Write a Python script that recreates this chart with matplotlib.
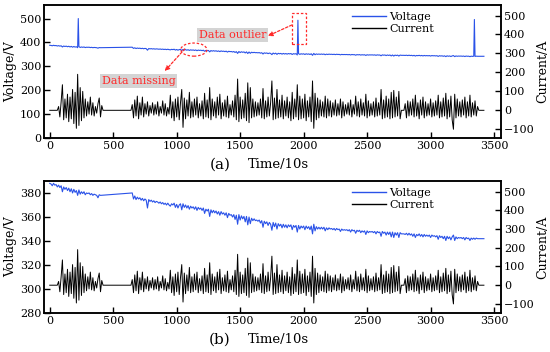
import numpy as np
import matplotlib
matplotlib.use("Agg")
import matplotlib.pyplot as plt
from matplotlib.patches import Ellipse, Rectangle

plt.rcParams['font.family'] = ['DejaVu Serif']
plt.rcParams['mathtext.default'] = 'regular'

# ---- current (A), sampled every 10 time units ----
cur_seg1 = [20, -35, 45, 135, -50, 60, -40, 85, -60, 70,
            -45, 110, -70, 95, -95, 190, -80, 120, -55, 100,
            -40, 60, -30, 45, -20, 70, -25, 40, -30, 20,
            -15, 35, 65, -35, 25]
cur_seg2 = [30, -40, 55, -30, 75, -45, 40, -25, 70, -35,
            35, -20, 45, -30, 25, -15, 40, -25, 30, -20,
            45, -30, 20, -15, 50, -25, 35, -30, 15, -20,
            80, -40, 45, -55, 60, -35, 70, -50, 40, 110,
            -90, 65, -45, 55, -30, 95, -40, 45, -35, 60,
            -25, 70, -40, 35, -30, 50, -45, 90, -35, 55,
            -40, 120, -50, 60, -30, 45, -40, 70, -25, 85,
            -45, 40, -30, 55, -35, 75, -40, 30, -25, 50,
            -35, 80, -50, 165, -60, 70, -45, 55, -40, 90,
            -55, 145, -65, 120, -40, 60, -35, 45, -30, 40,
            -25, 60, -40, 115, -45, 50, -35, 70, -30, 40,
            155, -50, 65, -45, 110, -40, 55, -35, 80, -45,
            50, -30, 70, -40, 45, -55, 95, -45, 60, -35,
            135, -50, 75, -45, 60, -40, 85, -55, 50, -35,
            70, -60, 155, -95, 90, -50, 65, -40, 55, -30,
            45, -35, 75, -40, 60, -30, 50, -35, 40, -25,
            55, -30, 35, -25, 60, -40, 45, -30, 30, -20,
            40, -25, 55, -35, 30, -20, 75, -30, 45, -35,
            60, -25, 40, -30, 85, -40, 50, -30, 35, -25,
            45, -35, 65, -30, 40, -25, 110, -45, 55, -40,
            75, -35, 60, -45, 95, -40, 105, -35, 70, -30,
            100, -45, 0, 0, 0, 35, -40, 50, -30, 45,
            -25, 60, -35, 80, -30, 40, -45, 55, -25, 70,
            -40, 45, -30, 35, -25, 60, -35, 40, -30, 50,
            -25, 80, -40, 45, -35, 65, -30, 90, -45, 55,
            -35, 75, -50, -100, 85, -40, 60, -30, 45, -35,
            55, -25, 70, -40, 45, -30, 80, -35, 40, -25,
            50, -30, 20]
cur_time = np.concatenate([[0, 60], np.arange(70, 411, 10), [420, 640],
                           np.arange(650, 3371, 10), [3380, 3420]])
current = np.concatenate([[0, 0], cur_seg1, [0, 0], cur_seg2, [0, 0]])

# ---- voltage (V), sampled every 10 time units (gap 400-650) ----
volt_seg1 = [388, 387.5, 386, 388, 386.5, 387, 385, 386.5, 384.5, 386,
             381, 385, 383, 384.5, 382, 384, 381, 383.5, 380, 383,
             380.5, 382, 378, 382.5, 379, 381, 379.5, 381, 378.5, 380,
             379.5, 380, 378.5, 379.5, 378, 379, 378.5, 378, 376, 378.5,
             378]
volt_seg2 = [380, 375, 377.5, 374.5, 376.5, 375, 376, 374, 375.5, 373.5,
             375, 374, 367.5, 374.5, 373, 374, 372.5, 373.5, 372, 373,
             372.5, 371.5, 372.5, 371, 372, 370.5, 371.5, 370, 371.5, 370,
             369, 371, 370, 371.5, 368, 370.5, 367.5, 370, 371, 366,
             371, 368, 370, 367.5, 369.5, 366.5, 369, 367.5, 368.5, 366.5,
             368.5, 365.5, 368, 366.5, 367.5, 365.5, 367.5, 363, 366.5, 365,
             366.5, 360.5, 366, 363.5, 365.5, 363.5, 365, 362.5, 364.5, 361.5,
             364.5, 362.5, 363.5, 361.5, 363.5, 359.5, 363, 361.5, 362, 360,
             362, 358, 361.5, 354, 362, 357.5, 361, 358.5, 360.5, 356,
             360.5, 353.5, 360, 354.5, 359, 357, 358.5, 357, 357.5, 356.5,
             357.5, 355, 357, 351.5, 356.5, 354.5, 356, 353, 355.5, 354,
             349, 355.5, 352, 355, 350, 354.5, 352.5, 354, 351, 354,
             351.5, 353.5, 351, 353.5, 352, 353.5, 349.5, 353, 351.5, 353,
             347.5, 353, 350, 352.5, 351, 352.5, 349.5, 352.5, 350.5, 352,
             349.5, 352.5, 346, 354, 348.5, 352, 350, 351.5, 350, 351.5,
             350, 351.5, 348.5, 351, 349.5, 351, 350, 350.5, 349.5, 350.5,
             349, 350.5, 349.5, 350, 348, 350, 349, 349.5, 349, 349.5,
             348.5, 349.5, 347.5, 349.5, 348.5, 349, 346.5, 349, 348, 349,
             347, 348.5, 347.5, 348.5, 345.5, 348.5, 347, 348, 347.5, 348,
             347, 348, 346, 348, 347, 347.5, 344, 348, 346.5, 347.5,
             345, 347.5, 345.5, 347.5, 343.5, 347.5, 343, 347, 345, 347,
             343, 347, 346, 346, 346, 345.5, 346.5, 345, 346.5, 345,
             346, 344, 346, 343, 345.5, 344.5, 346, 344, 345.5, 343.5,
             345.5, 344, 345, 344, 345, 343, 345, 344, 344.5, 343.5,
             344.5, 341.5, 344.5, 343, 344, 342, 344, 340.5, 344, 342,
             343.5, 341, 343.5, 345, 340.5, 343.5, 342, 343, 342.5, 343,
             342, 343, 341, 343, 342, 342.5, 340.5, 342.5, 341.5, 342.5,
             341.5, 342.5, 342, 342, 342, 342, 342, 342]
volt_time = np.concatenate([np.arange(0, 401, 10), np.arange(650, 3421, 10)])
voltage = np.concatenate([volt_seg1, volt_seg2])

# outliers present in the raw data of panel (a)
outlier_time = [225, 1955, 3345]
outlier_volt = [500, 493, 496]
raw_time = np.concatenate([volt_time, outlier_time])
raw_volt = np.concatenate([voltage, outlier_volt])
order = np.argsort(raw_time)
raw_time, raw_volt = raw_time[order], raw_volt[order]

BLUE = '#2a52e8'
RED = '#ff2a2a'

fig = plt.figure(figsize=(5.5, 3.52), dpi=100)
ax_a = fig.add_axes([0.080, 0.608, 0.831, 0.378])
ax_b = fig.add_axes([0.080, 0.110, 0.831, 0.376])


def style(ax, ax2, ylim, y2lim, yticks, tag):
    ax.set_xlim(-45, 3555)
    ax.set_ylim(*ylim)
    ax2.set_ylim(*y2lim)
    ax.set_xticks([0, 500, 1000, 1500, 2000, 2500, 3000, 3500])
    ax.set_yticks(yticks)
    ax2.set_yticks([-100, 0, 100, 200, 300, 400, 500])
    ax2.set_yticklabels(['\u2212100', '0', '100', '200', '300', '400', '500'])
    for a in (ax, ax2):
        a.tick_params(direction='in', length=4, width=1, labelsize=8, pad=2)
        for s in a.spines.values():
            s.set_linewidth(1.1)
    ax.set_ylabel('Voltage/V', fontsize=9, labelpad=2)
    ax2.set_ylabel('Current/A', fontsize=9, labelpad=1)
    ax.text(0.385, -0.20, tag, transform=ax.transAxes, fontsize=11,
            ha='center', va='center')
    ax.text(0.512, -0.20, 'Time/10s', transform=ax.transAxes, fontsize=9.5,
            ha='center', va='center')
    h1, = ax.plot([], [], color=BLUE, lw=1.0, label='Voltage')
    h2, = ax.plot([], [], color='black', lw=1.0, label='Current')
    ax2.legend(handles=[h1, h2], loc='upper left', bbox_to_anchor=(0.66, 1.0),
               frameon=False, fontsize=8, handlelength=3.0, handletextpad=0.3,
               labelspacing=0.25, borderaxespad=0.2)


# ---- panel (a) ----
ax_a2 = ax_a.twinx()
ax_a.plot(raw_time, raw_volt, color=BLUE, lw=0.8)
ax_a2.plot(cur_time, current, color='black', lw=0.7)
style(ax_a, ax_a2, (0, 557), (-146, 556), [0, 100, 200, 300, 400, 500], '(a)')

ax_a.add_patch(Ellipse((1135, 370), 205, 55, fill=False, ec=RED, lw=0.9,
                       ls=(0, (2, 1.5)), zorder=5))
ax_a.add_patch(Rectangle((1907, 395), 110, 128, fill=False, ec=RED, lw=0.9,
                         ls=(0, (2, 1.5)), zorder=5))
bbox = dict(boxstyle='square,pad=0.15', fc='#d4d4d4', ec='none')
ax_a.text(1442, 431, 'Data outlier', color=RED, fontsize=8, ha='center',
          va='center', bbox=bbox, zorder=6)
ax_a.text(701, 238, 'Data missing', color=RED, fontsize=8, ha='center',
          va='center', bbox=bbox, zorder=6)
arrow = dict(arrowstyle='-|>', color=RED, lw=0.9, ls=(0, (2, 1.5)),
             mutation_scale=7, shrinkA=0, shrinkB=0)
ax_a.annotate('', xy=(1718, 427), xytext=(1907, 473), arrowprops=arrow,
              zorder=6)
ax_a.annotate('', xy=(906, 280), xytext=(1064, 373), arrowprops=arrow,
              zorder=6)

# ---- panel (b) ----
ax_b2 = ax_b.twinx()
ax_b.plot(volt_time, voltage, color=BLUE, lw=0.8)
ax_b2.plot(cur_time, current, color='black', lw=0.7)
style(ax_b, ax_b2, (280, 390), (-150, 557), [280, 300, 320, 340, 360, 380], '(b)')

fig.savefig('out.png', dpi=100)
